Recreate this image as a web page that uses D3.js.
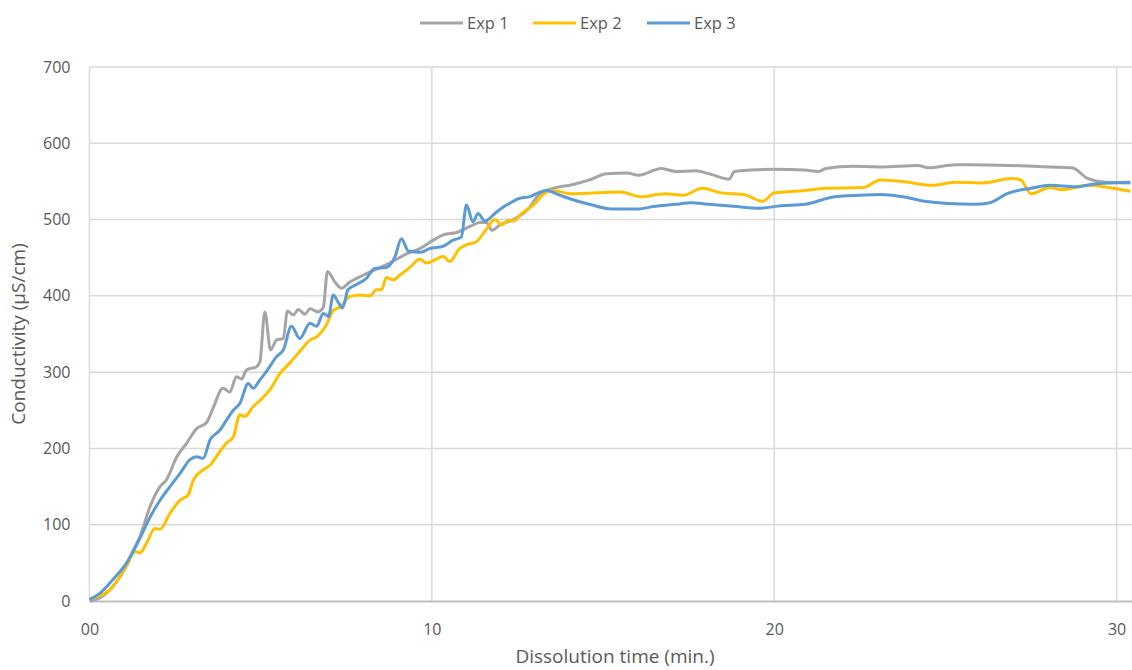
<!DOCTYPE html>
<html>
<head>
<meta charset="utf-8">
<script src="https://cdn.jsdelivr.net/npm/d3@7"></script>
<style>
  body { margin: 0; background: #fff; }
  text { font-family: "Open Sans", sans-serif; fill: #595959; }
</style>
</head>
<body>
<div id="chart-area"></div>
<script>
// Data (time in minutes, conductivity in µS/cm)
var seriesNames = ["Exp 1", "Exp 2", "Exp 3"];
var seriesColors = ["#A5A5A5", "#FFC000", "#5B9BD5"];

var exp1Time = [0,0.3,0.7,1.07,1.3,1.47,1.77,2.06,2.25,2.55,2.84,3.13,3.42,3.61,3.9,4.1,4.29,4.44,4.59,4.88,4.98,5.12,5.29,5.46,5.66,5.78,5.95,6.1,6.29,6.44,6.68,6.83,6.95,7.17,7.36,7.6,7.99,8.38,8.77,9.26,9.65,10.04,10.33,10.72,11.11,11.4,11.6,11.75,11.99,12.38,12.77,13.16,13.55,14.13,14.6,15.1,15.7,16.03,16.7,17.13,17.7,18.1,18.68,18.84,19.34,20,20.88,21.3,21.5,22.3,23.1,24.2,24.5,25.3,25.7,26.9,28.05,28.7,29.15,29.7,30.4];
var exp1Values = [0,4,20,45,68,84,124,150,159,189,207,226,234,253,279,274,294,291,303,307,314,379,329,342,344,380,375,382,376,383,379,385,432,418,410,418,427,435,443,455,462,473,480,483,491,496,496,486,493,500,512,534,541,546,552,560,561,558,567,563,564,560,553,563,565,566,565,563,567,570,569,571,568,572,572,571,569,568,554,549,548];

var exp2Time = [0,0.58,1.07,1.33,1.47,1.67,1.91,2.06,2.35,2.64,2.88,3.04,3.32,3.52,3.81,4.0,4.2,4.39,4.54,4.78,4.98,5.27,5.56,5.85,6.14,6.44,6.63,6.92,7.12,7.31,7.6,7.9,8.19,8.38,8.53,8.67,8.87,9.06,9.35,9.65,9.84,10.13,10.33,10.52,10.81,11.01,11.3,11.6,11.84,12.04,12.23,12.38,12.62,12.96,13.35,13.55,14.04,14.8,15.5,16.1,16.8,17.35,17.9,18.45,19.1,19.67,20,20.9,21.5,22.6,23.1,23.75,24.6,25.3,26.06,26.95,27.2,27.5,28.05,28.4,29.15,29.9,30.4];
var exp2Values = [3,14,45,65,63,76,95,94,115,132,139,159,172,178,196,207,215,244,242,255,263,277,298,312,327,342,346,362,381,385,399,401,400,408,408,424,421,427,437,448,443,448,452,445,462,467,471,488,500,493,499,498,508,519,536,538,534,535,536,530,534,532,541,535,533,524,535,538,541,542,552,550,545,549,548,554,552,534,542,539,545,541,537];

var exp3Time = [0,0.3,0.68,1.07,1.47,1.77,2.06,2.35,2.64,2.93,3.13,3.32,3.52,3.81,4.0,4.2,4.39,4.64,4.78,4.98,5.17,5.46,5.66,5.9,6.14,6.44,6.63,6.83,6.98,7.12,7.26,7.39,7.55,7.8,8.09,8.33,8.67,8.92,9.11,9.31,9.65,9.94,10.33,10.62,10.86,11.01,11.2,11.35,11.55,11.89,12.18,12.57,12.86,13.11,13.35,13.74,14.05,14.6,15.26,16.03,16.47,17.13,17.57,18.1,18.9,19.56,20.2,20.9,21.76,22.5,23.1,23.75,24.4,25.07,25.84,26.3,26.8,27.5,28.05,28.8,29.4,30.4];
var exp3Values = [2,10,28,49,82,110,132,150,167,185,189,187,211,224,237,250,259,285,279,290,301,320,329,360,344,364,360,377,373,401,392,384,408,415,423,436,437,451,475,459,457,462,465,473,477,519,497,508,498,510,519,528,530,535,538,532,527,520,514,514,517,520,522,520,517,515,518,520,530,532,533,530,524,521,520,522,534,541,545,543,547,549];

var xTicks = [0, 10, 20, 30];
var yTicks = [0, 100, 200, 300, 400, 500, 600, 700];

// SVG drawing area
var margin = {top: 67, right: 0, bottom: 69, left: 89.5};
var width = 1132 - margin.left - margin.right,
    height = 670 - margin.top - margin.bottom;

var svgRoot = d3.select("#chart-area").append("svg")
    .attr("width", 1132)
    .attr("height", 670);

var svg = svgRoot.append("g")
    .attr("transform", "translate(" + margin.left + "," + margin.top + ")");

// Scales
var x = d3.scaleLinear().domain([0, 30.45]).range([0, width]);
var y = d3.scaleLinear().domain([0, 700]).range([height, 0]);

// Gridlines
svg.append("g").selectAll("line.h")
    .data(yTicks.slice(1))
    .enter().append("line")
    .attr("x1", 0).attr("x2", width)
    .attr("y1", d => y(d)).attr("y2", d => y(d))
    .attr("stroke", "#D9D9D9").attr("stroke-width", 1.5);

svg.append("g").selectAll("line.v")
    .data(xTicks)
    .enter().append("line")
    .attr("x1", d => x(d)).attr("x2", d => x(d))
    .attr("y1", 0).attr("y2", height)
    .attr("stroke", "#D9D9D9").attr("stroke-width", 1.5);

// Axes
var xAxis = d3.axisBottom(x).tickValues(xTicks).tickSize(0).tickPadding(23).tickFormat(d3.format("02d"));
var yAxis = d3.axisLeft(y).tickValues(yTicks).tickSize(0).tickPadding(19);

var xAxisGroup = svg.append("g")
    .attr("transform", "translate(0," + height + ")")
    .call(xAxis);
xAxisGroup.select(".domain").attr("stroke", "#BFBFBF").attr("stroke-width", 2);
xAxisGroup.selectAll("text").style("font-size", "16px").attr("fill", "#595959");

var yAxisGroup = svg.append("g").call(yAxis);
yAxisGroup.select(".domain").remove();
yAxisGroup.selectAll("text").style("font-size", "16px").attr("fill", "#595959");

// Lines
var series = [
  {name: seriesNames[0], color: seriesColors[0], time: exp1Time, values: exp1Values},
  {name: seriesNames[1], color: seriesColors[1], time: exp2Time, values: exp2Values},
  {name: seriesNames[2], color: seriesColors[2], time: exp3Time, values: exp3Values}
];

var line = d3.line()
    .x(d => x(d[0]))
    .y(d => y(d[1]))
    .curve(d3.curveMonotoneX);

svg.append("g").selectAll("path.series")
    .data(series)
    .enter().append("path")
    .attr("fill", "none")
    .attr("stroke", d => d.color)
    .attr("stroke-width", 3)
    .attr("stroke-linejoin", "round")
    .attr("d", d => line(d.time.map((t, i) => [t, d.values[i]])));

// Axis titles
svgRoot.append("text")
    .attr("x", 615).attr("y", 663)
    .attr("text-anchor", "middle")
    .style("font-size", "19px")
    .text("Dissolution time (min.)");

svgRoot.append("text")
    .attr("transform", "translate(25," + (margin.top + height / 2) + ") rotate(-90)")
    .attr("text-anchor", "middle")
    .style("font-size", "19px")
    .text("Conductivity (µS/cm)");

// Legend
var legendX = [420, 533, 647];
var legend = svgRoot.append("g").selectAll("g")
    .data(series)
    .enter().append("g")
    .attr("transform", (d, i) => "translate(" + legendX[i] + ",23)");

legend.append("line")
    .attr("x1", 0).attr("x2", 43)
    .attr("stroke", d => d.color)
    .attr("stroke-width", 3);

legend.append("text")
    .attr("x", 47).attr("dy", "0.35em")
    .style("font-size", "16.5px")
    .text(d => d.name);
</script>
</body>
</html>
